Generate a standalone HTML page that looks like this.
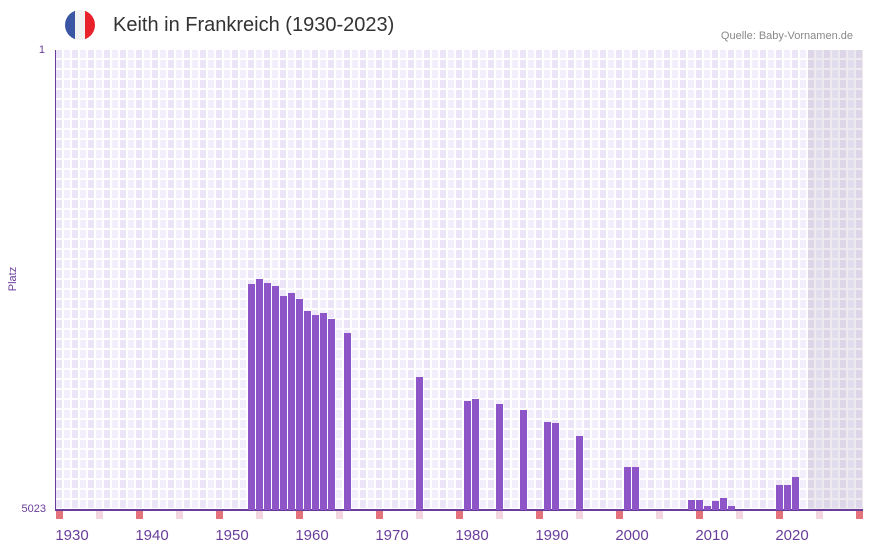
<!DOCTYPE html>
<html><head><meta charset="utf-8"><style>
body{margin:0;background:#fff;width:873px;height:552px;overflow:hidden;position:relative;font-family:"Liberation Sans",sans-serif}
.plot{position:absolute;left:56px;top:50px;width:807px;height:460px;
background-color:#fff;
background-image:
linear-gradient(to bottom,transparent 8px,#fff 8px),
repeating-linear-gradient(to right,#ebe5f7 0 6px,#fff 6px 8px,#f2eefb 8px 14px,#fff 14px 16px);
background-size:807px 10px,807px 10px;}
.gray{position:absolute;left:808px;top:50px;width:55px;height:460px;background:rgba(180,170,190,0.25)}
.b{position:absolute;width:7px;background:#8e55c8;bottom:42px}
.m{position:absolute;top:511px;width:7px;height:8px}
.lab{position:absolute;top:527px;color:#6a3d9a;font-size:15px;width:50px;text-align:center}
</style></head><body>
<div style="position:absolute;left:65px;top:10px;width:30px;height:30px;border-radius:50%;overflow:hidden;background:linear-gradient(to right,#3a55a4 0 10px,#f1f1f1 10px 20px,#e8212b 20px)"></div>
<div style="position:absolute;left:113px;top:14px;font-size:20px;color:#333">Keith in Frankreich (1930-2023)</div>
<div style="position:absolute;right:20px;top:30px;font-size:11px;color:#888">Quelle: Baby-Vornamen.de</div>
<div class="plot"></div>
<div class="gray"></div>
<div style="position:absolute;left:55px;top:50px;width:1px;height:460px;background:#6a3d9a"></div>
<div style="position:absolute;left:55px;top:509px;width:808px;height:2px;background:#6a3d9a"></div>
<div style="position:absolute;left:30px;top:44px;font-size:11px;color:#6a3d9a;width:15px;text-align:right">1</div>
<div style="position:absolute;left:10px;top:503px;font-size:11px;color:#6a3d9a;width:36px;text-align:right">5023</div>
<div style="position:absolute;left:1px;top:273px;font-size:11px;color:#6a3d9a;transform:rotate(-90deg)">Platz</div>
<div id="bars"></div>
<script>
var d=[[248,284],[256,279],[264,283],[272,286],[280,296],[288,293],[296,299],[304,311],[312,315],[320,313],[328,319],[344,333],[416,377],[464,401],[472,399],[496,404],[520,410],[544,422],[552,423],[576,436],[624,467],[632,467],[688,500],[696,500],[704,506],[712,501],[720,498],[728,506],[776,485],[784,485],[792,477]];
var h='';d.forEach(function(a){h+='<div class="b" style="left:'+a[0]+'px;top:'+a[1]+'px;height:'+(510-a[1])+'px"></div>'});
for(var x=56;x<863;x+=40){var r=((x-56)/40)%2==0;h+='<div class="m" style="left:'+x+'px;background:'+(r?'#e5737c':'#f3d6e0')+'"></div>'}
for(var i=0;i<10;i++){h+='<div class="lab" style="left:'+(47+80*i)+'px">'+(1930+10*i)+'</div>'}
document.getElementById('bars').innerHTML=h;
</script>
</body></html>
